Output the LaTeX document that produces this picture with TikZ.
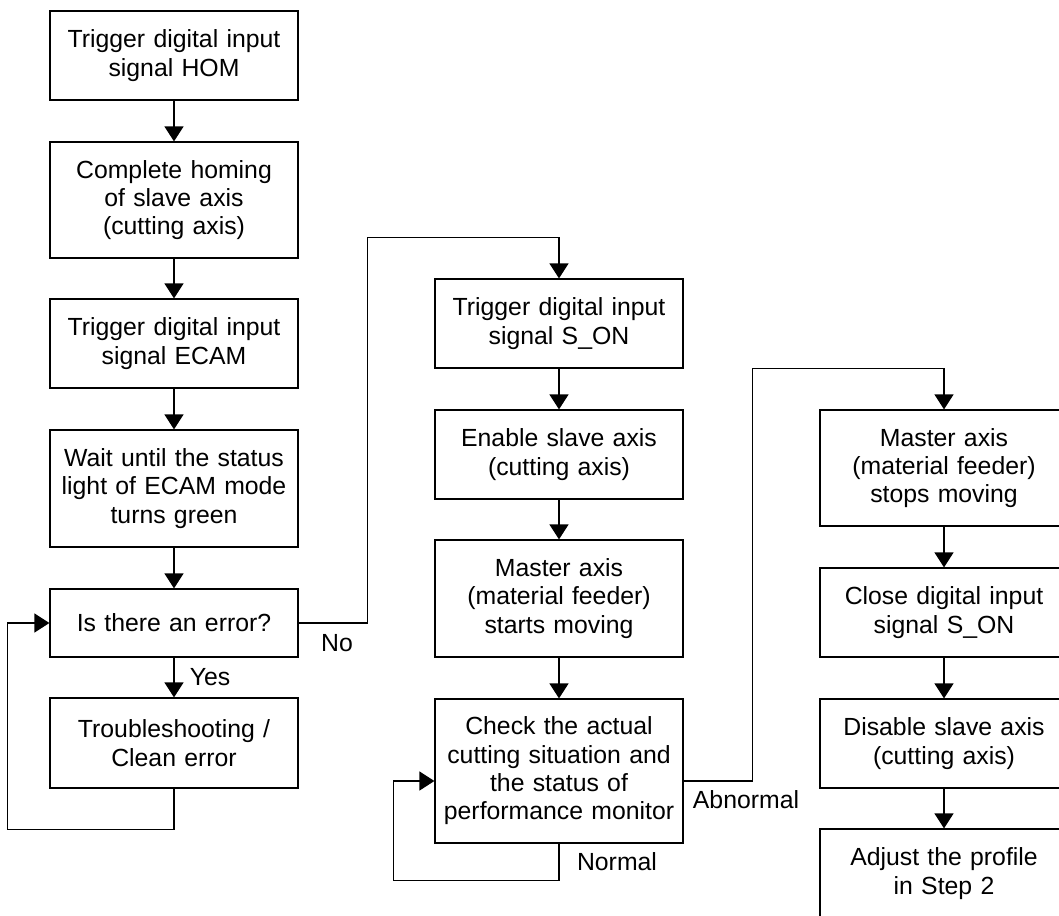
\documentclass[tikz,border=0pt]{standalone}
\usepackage{fontspec}
\setmainfont{Liberation Sans}
\usetikzlibrary{arrows.meta}

\begin{document}
\begin{tikzpicture}[x=1pt, y=-1pt,
    box/.style={draw, rectangle, line width=1.2pt, text width=248pt, inner xsep=0pt,
                align=center, font=\fontsize{24.8}{28.3}\selectfont},
    arr/.style={-{Triangle[width=19pt,length=15pt]}, line width=1.2pt},
    lbl/.style={font=\fontsize{24.8}{28.3}\selectfont}]
  \useasboundingbox (0,0) rectangle (1059,915);

  % left column
  \node[box, minimum height=89pt]  (1)  at (174,55.5)  {Trigger digital input\\signal HOM};
  \node[box, minimum height=116pt] (2)  at (174,200)   {Complete homing\\of slave axis\\(cutting axis)};
  \node[box, minimum height=89pt]  (3)  at (174,343.5) {Trigger digital input\\signal ECAM};
  \node[box, minimum height=117pt] (4)  at (174,488.5) {Wait until the status\\light of ECAM mode\\turns green};
  \node[box, minimum height=68pt]  (5)  at (174,623)   {Is there an error?};
  \node[box, minimum height=90pt]  (6)  at (174,743)   {Troubleshooting /\\Clean error};

  % middle column
  \node[box, minimum height=89pt]  (7)  at (559,323.5) {Trigger digital input\\signal S\_ON};
  \node[box, minimum height=89pt]  (8)  at (559,454.5) {Enable slave axis\\(cutting axis)};
  \node[box, minimum height=117pt] (9)  at (559,598.5) {Master axis\\(material feeder)\\starts moving};
  \node[box, minimum height=144pt] (10) at (559,771)   {Check the actual\\cutting situation and\\the status of\\performance monitor};

  % right column
  \node[box, minimum height=116pt] (11) at (944,468)   {Master axis\\(material feeder)\\stops moving};
  \node[box, minimum height=89pt]  (12) at (944,612.5) {Close digital input\\signal S\_ON};
  \node[box, minimum height=89pt]  (13) at (944,743.5) {Disable slave axis\\(cutting axis)};
  \node[box, minimum height=89pt]  (14) at (944,873.5) {Adjust the profile\\in Step 2};

  \draw[arr] (1) -- (2);
  \draw[arr] (2) -- (3);
  \draw[arr] (3) -- (4);
  \draw[arr] (4) -- (5);
  \draw[arr] (5) -- (6);
  \draw[arr] (6.south) -- ++(0,41) -| ([xshift=-42pt]5.west) -- (5.west);
  \draw[arr] (5.east) -- ++(69,0) |- ([yshift=41pt]7.north) -- (7.north);

  \draw[arr] (7) -- (8);
  \draw[arr] (8) -- (9);
  \draw[arr] (9) -- (10);
  \draw[arr] (10.south) -- ++(0,37) -| ([xshift=-41pt,yshift=-10pt]10.west)
                        -- ([yshift=-10pt]10.west);
  \draw[arr] ([yshift=-10pt]10.east) -- ++(69,0) |- ([yshift=41pt]11.north) -- (11.north);

  \draw[arr] (11) -- (12);
  \draw[arr] (12) -- (13);
  \draw[arr] (13) -- (14);

  \node[lbl] (yes)      at (210,677) {Yes};
  \node[lbl] (no)       at (337,643) {No};
  \node[lbl] (normal)   at (617,862) {Normal};
  \node[lbl] (abnormal) at (746,800) {Abnormal};
\end{tikzpicture}
\end{document}
